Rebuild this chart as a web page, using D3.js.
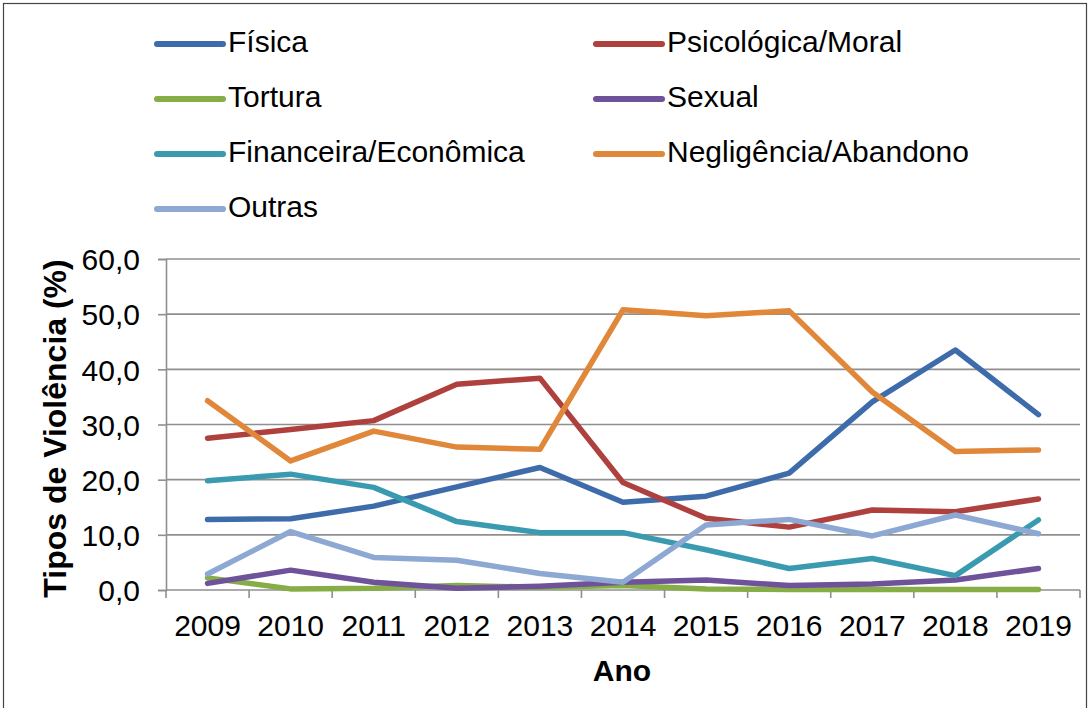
<!DOCTYPE html>
<html>
<head>
<meta charset="utf-8">
<script src="https://cdn.jsdelivr.net/npm/d3@7"></script>
<style>
  html, body { margin: 0; padding: 0; background: #fff; }
  svg { display: block; }
  text { font-family: "Liberation Sans", Arial, sans-serif; fill: #000; }
</style>
</head>
<body>
<svg id="chart" width="1091" height="708"></svg>
<script>
const years = ["2009","2010","2011","2012","2013","2014","2015","2016","2017","2018","2019"];
const seriesNames = ["Física","Psicológica/Moral","Tortura","Sexual","Financeira/Econômica","Negligência/Abandono","Outras"];
const fisica      = [12.8, 12.9, 15.2, 18.7, 22.2, 15.9, 17.0, 21.2, 34.1, 43.5, 31.8];
const psicologica = [27.5, 29.1, 30.7, 37.3, 38.4, 19.5, 13.0, 11.4, 14.5, 14.2, 16.5];
const tortura     = [2.2, 0.2, 0.3, 0.8, 0.5, 0.8, 0.2, 0.1, 0.1, 0.1, 0.1];
const sexual      = [1.2, 3.6, 1.4, 0.3, 0.7, 1.4, 1.8, 0.8, 1.1, 1.8, 3.9];
const financeira  = [19.8, 21.0, 18.6, 12.4, 10.4, 10.4, 7.3, 3.9, 5.7, 2.6, 12.7];
const negligencia = [34.3, 23.4, 28.8, 25.9, 25.5, 50.8, 49.7, 50.6, 35.9, 25.1, 25.4];
const outras      = [2.9, 10.6, 5.9, 5.4, 3.0, 1.4, 11.8, 12.8, 9.8, 13.6, 10.2];
const yTicks = [0, 10, 20, 30, 40, 50, 60];
const colors = ["#3E6BAA", "#AE403D", "#86AD46", "#6E529A", "#3A9BB0", "#E0873A", "#8DA8D3"];

const seriesValues = [fisica, psicologica, tortura, sexual, financeira, negligencia, outras];
const series = seriesNames.map((n, i) => ({ name: n, values: seriesValues[i], color: colors[i] }));

const svg = d3.select("#chart");
const pL = 166, pR = 1080, pT = 259, pB = 590;

// outer border
svg.append("rect").attr("x", 3.5).attr("y", 3.5).attr("width", 1083).attr("height", 800)
  .attr("fill", "none").attr("stroke", "#444").attr("stroke-width", 1.2);

const x = d3.scaleBand().domain(years).range([pL, pR]).padding(0);
const y = d3.scaleLinear().domain([0, 60]).range([pB, pT]);
const fmt = v => d3.format(".1f")(v).replace(".", ",");

// gridlines
svg.append("g").selectAll("line").data(yTicks.filter(t => t > 0)).join("line")
  .attr("x1", pL).attr("x2", pR)
  .attr("y1", d => y(d)).attr("y2", d => y(d))
  .attr("stroke", "#8f8f8f").attr("stroke-width", 1.6);

// y axis
const yAxis = svg.append("g").attr("transform", `translate(${pL},0)`)
  .call(d3.axisLeft(y).tickValues(yTicks).tickSize(8).tickPadding(18).tickFormat(fmt));
yAxis.select(".domain").attr("stroke", "#8f8f8f").attr("stroke-width", 1.6);
yAxis.selectAll(".tick line").attr("stroke", "#8f8f8f").attr("stroke-width", 1.6);
yAxis.selectAll(".tick text").attr("font-size", 30).attr("font-family", "Liberation Sans, Arial, sans-serif").attr("fill", "#000").attr("dy", "0.36em");

// x axis
const xAxis = svg.append("g").attr("transform", `translate(0,${pB})`)
  .call(d3.axisBottom(x).tickSize(0).tickPadding(25));
xAxis.select(".domain").remove();
xAxis.selectAll(".tick text").attr("font-size", 30).attr("font-family", "Liberation Sans, Arial, sans-serif").attr("fill", "#000").attr("dy", "0.71em");
const xBounds = years.map(yr => x(yr)).concat([pR]);
svg.append("line").attr("x1", pL).attr("x2", pR).attr("y1", pB).attr("y2", pB)
  .attr("stroke", "#8f8f8f").attr("stroke-width", 1.6);
svg.append("g").selectAll("line").data(xBounds).join("line")
  .attr("x1", d => d).attr("x2", d => d).attr("y1", pB).attr("y2", pB + 8)
  .attr("stroke", "#8f8f8f").attr("stroke-width", 1.6);

// lines
const line = d3.line().x((d, i) => x(years[i]) + x.bandwidth() / 2).y(d => y(d));
svg.append("g").selectAll("path").data(series).join("path")
  .attr("d", d => line(d.values))
  .attr("fill", "none").attr("stroke", d => d.color)
  .attr("stroke-width", 5.5).attr("stroke-linejoin", "round").attr("stroke-linecap", "round");

// axis titles
svg.append("text").attr("x", (pL + pR) / 2 - 1).attr("y", 681)
  .attr("text-anchor", "middle").attr("font-size", 30).attr("font-weight", "bold").text("Ano");
svg.append("text").attr("transform", `translate(66,${(pT + pB) / 2 + 4}) rotate(-90)`)
  .attr("text-anchor", "middle").attr("font-size", 32).attr("font-weight", "bold").text("Tipos de Violência (%)");

// legend
const legend = svg.append("g");
const lg = legend.selectAll("g").data(series).join("g")
  .attr("transform", (d, i) => `translate(${i % 2 === 0 ? 157 : 596},${44 + Math.floor(i / 2) * 55})`);
lg.append("line").attr("x1", 0).attr("x2", 66).attr("y1", 0).attr("y2", 0)
  .attr("stroke", d => d.color).attr("stroke-width", 6).attr("stroke-linecap", "round");
lg.append("text").attr("x", 71).attr("y", 8).attr("font-size", 30).text(d => d.name);
</script>
</body>
</html>
